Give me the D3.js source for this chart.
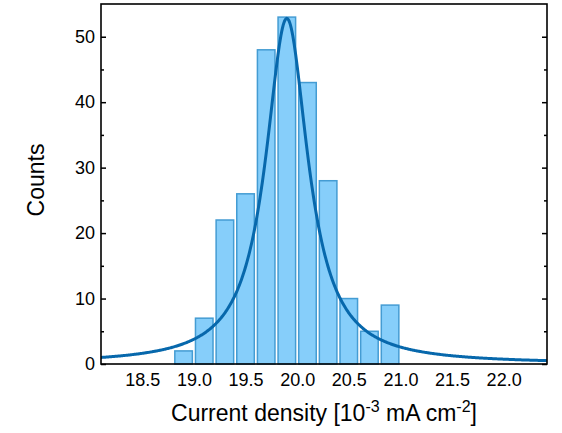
<!DOCTYPE html>
<html>
<head>
<meta charset="utf-8">
<script src="https://cdn.jsdelivr.net/npm/d3@7"></script>
<style>
  html, body { margin: 0; padding: 0; background: #fff; }
  svg { display: block; font-family: Arial, "Liberation Sans", sans-serif; }
</style>
</head>
<body>
<svg id="chart" width="562" height="433"></svg>
<script>
// Histogram of current density (bin centres, 0.2 wide) and counts
const binCenters = [18.9, 19.1, 19.3, 19.5, 19.7, 19.9, 20.1, 20.3, 20.5, 20.7, 20.9];
const counts     = [2, 7, 22, 26, 48, 53, 43, 28, 10, 5, 9];
const binWidth = 0.2;

// Lorentz fit parameters
const fitCenter = 19.9;
const fitWidth = 0.5;      // FWHM
const fitPeak = 52.8;
const fitBase = 0;

const xTicks = [18.5, 19.0, 19.5, 20.0, 20.5, 21.0, 21.5, 22.0];
const yTicks = [0, 10, 20, 30, 40, 50];
const yMinorTicks = [5, 15, 25, 35, 45];

const margin = { left: 101, right: 15, top: 4, bottom: 69 };
const W = 562, H = 433;
const svg = d3.select("#chart");

const x = d3.scaleLinear().domain([18.1, 22.42]).range([margin.left, W - margin.right]);
const y = d3.scaleLinear().domain([0, 55]).range([H - margin.bottom, margin.top]);

const clipId = "plot-clip";
svg.append("clipPath").attr("id", clipId)
  .append("rect")
  .attr("x", margin.left).attr("y", margin.top)
  .attr("width", W - margin.left - margin.right)
  .attr("height", H - margin.top - margin.bottom);

// Bars
const barPad = 0.015;
svg.append("g").selectAll("rect")
  .data(binCenters.map((c, i) => ({ c, n: counts[i] })))
  .join("rect")
  .attr("x", d => x(d.c - binWidth / 2 + barPad))
  .attr("width", d => x(d.c + binWidth / 2 - barPad) - x(d.c - binWidth / 2 + barPad))
  .attr("y", d => y(d.n))
  .attr("height", d => y(0) - y(d.n))
  .attr("fill", "#86cefa")
  .attr("stroke", "#449cd3")
  .attr("stroke-width", 1.5);

// Lorentz fit curve
const lorentz = v => fitBase + fitPeak * (fitWidth * fitWidth) /
  (4 * (v - fitCenter) * (v - fitCenter) + fitWidth * fitWidth);
const xs = d3.range(0, 601).map(i => 18.1 + i * (22.42 - 18.1) / 600);
svg.append("path")
  .datum(xs)
  .attr("clip-path", `url(#${clipId})`)
  .attr("fill", "none")
  .attr("stroke", "#0768ac")
  .attr("stroke-width", 3)
  .attr("d", d3.line().x(v => x(v)).y(v => y(lorentz(v))));

// Axes
const left = svg.append("g").attr("transform", `translate(${margin.left},0)`)
  .call(d3.axisLeft(y).tickValues(yTicks).tickSizeInner(-5).tickSizeOuter(0).tickPadding(6).tickFormat(d3.format("d")));
left.selectAll(".domain").remove();
left.selectAll("text").attr("font-size", 18).attr("fill", "#000");
left.selectAll("line").attr("stroke", "#000").attr("stroke-width", 1.5);

svg.append("g").attr("transform", `translate(${margin.left},0)`)
  .call(d3.axisLeft(y).tickValues(yMinorTicks).tickSizeInner(-3).tickSizeOuter(0).tickFormat(""))
  .call(g => g.select(".domain").remove())
  .selectAll("line").attr("stroke", "#000").attr("stroke-width", 1.5);

svg.append("g").attr("transform", `translate(${W - margin.right},0)`)
  .call(d3.axisRight(y).tickValues(yTicks).tickSizeInner(-5).tickSizeOuter(0).tickFormat(""))
  .call(g => g.select(".domain").remove())
  .selectAll("line").attr("stroke", "#000").attr("stroke-width", 1.5);

svg.append("g").attr("transform", `translate(${W - margin.right},0)`)
  .call(d3.axisRight(y).tickValues(yMinorTicks).tickSizeInner(-3).tickSizeOuter(0).tickFormat(""))
  .call(g => g.select(".domain").remove())
  .selectAll("line").attr("stroke", "#000").attr("stroke-width", 1.5);

const bottom = svg.append("g").attr("transform", `translate(0,${H - margin.bottom})`)
  .call(d3.axisBottom(x).tickValues(xTicks).tickSize(0).tickPadding(9).tickFormat(d3.format(".1f")));
bottom.selectAll(".domain").remove();
bottom.selectAll("text").attr("font-size", 18).attr("fill", "#000");

// Frame
svg.append("rect")
  .attr("x", margin.left).attr("y", margin.top)
  .attr("width", W - margin.left - margin.right)
  .attr("height", H - margin.top - margin.bottom)
  .attr("fill", "none").attr("stroke", "#000").attr("stroke-width", 1.6);

// Axis titles
const xt = svg.append("text")
  .attr("x", 324)
  .attr("y", 421)
  .attr("text-anchor", "middle")
  .attr("font-size", 23);
xt.append("tspan").text("Current density [10");
xt.append("tspan").attr("dy", -9).attr("font-size", 16).text("-3");
xt.append("tspan").attr("dy", 9).text(" mA cm");
xt.append("tspan").attr("dy", -9).attr("font-size", 16).text("-2");
xt.append("tspan").attr("dy", 9).text("]");

svg.append("text")
  .attr("transform", `translate(44,180) rotate(-90)`)
  .attr("text-anchor", "middle")
  .attr("font-size", 23)
  .text("Counts");
</script>
</body>
</html>
